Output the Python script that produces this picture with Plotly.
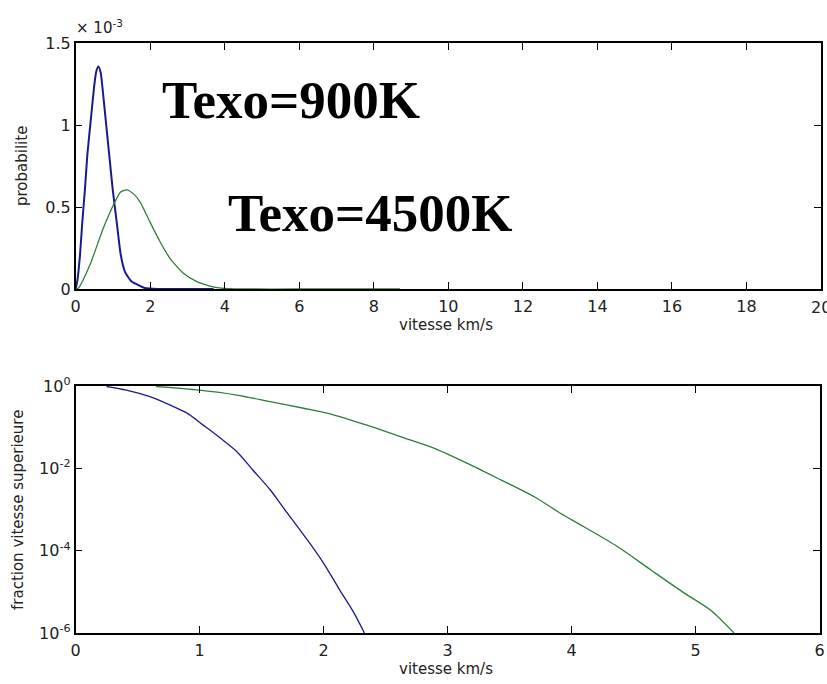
import plotly.graph_objects as go

W, H = 827, 684

# --- Distribution de probabilite des vitesses (x 1e-3) ---
v_900 = [0.0, 0.05, 0.115, 0.178, 0.25, 0.312, 0.40, 0.49, 0.55, 0.61, 0.67, 0.72, 0.81,
         0.90, 0.99, 1.10, 1.21, 1.32, 1.50, 1.68, 1.85, 2.2, 3.0, 3.7]
p_900 = [0.0, 0.06, 0.207, 0.41, 0.614, 0.817, 1.02, 1.224, 1.325, 1.356, 1.32, 1.224, 1.02,
         0.817, 0.614, 0.41, 0.207, 0.106, 0.045, 0.024, 0.006, 0.0, 0.0, 0.0]

v_4500 = [0.0, 0.07, 0.38, 0.74, 1.05, 1.20, 1.37, 1.55, 1.73, 1.99, 2.26, 2.53,
          2.89, 3.25, 3.60, 3.90, 4.5, 6.0, 8.7]
p_4500 = [0.0, 0.005, 0.146, 0.37, 0.53, 0.59, 0.604, 0.58, 0.53, 0.41, 0.29, 0.187,
          0.096, 0.045, 0.018, 0.005, 0.0, 0.0, 0.0]

# --- Fraction des particules de vitesse superieure ---
vf_900 = [0.25, 0.41, 0.60, 0.76, 0.90, 1.03, 1.17, 1.30, 1.43, 1.57, 1.68, 1.87,
          2.00, 2.13, 2.24, 2.33]
f_900 = [0.97, 0.794, 0.55, 0.347, 0.219, 0.112, 0.0537, 0.0257, 0.00912, 0.00302,
         0.00107, 1.82e-4, 5.0e-5, 1.12e-5, 3.3e-6, 1.0e-6]

vf_4500 = [0.65, 1.0, 1.30, 1.57, 1.84, 2.08, 2.35, 2.62, 2.89, 3.16, 3.43, 3.70,
           3.91, 4.10, 4.37, 4.64, 4.91, 5.12, 5.31]
f_4500 = [0.97, 0.794, 0.603, 0.417, 0.288, 0.200, 0.112, 0.0589, 0.0309, 0.0132,
          5.25e-3, 2.04e-3, 8.1e-4, 3.8e-4, 1.26e-4, 3.4e-5, 9.3e-6, 3.6e-6, 1.0e-6]

top_xticks = [0, 2, 4, 6, 8, 10, 12, 14, 16, 18, 20]
top_yticks = [0, 0.5, 1, 1.5]
top_ytext = ["0", "0.5", "1", "1.5"]
bot_xticks = [0, 1, 2, 3, 4, 5, 6]
bot_yticks = [1, 1e-2, 1e-4, 1e-6]
bot_ytext = ["10<sup>0</sup>", "10<sup>-2</sup>", "10<sup>-4</sup>", "10<sup>-6</sup>"]

BLUE = "#1a1a8e"
GREEN = "#2f7d3a"
TXT = "#222222"
SANS = "DejaVu Sans, Arial, sans-serif"
SERIF = "Liberation Serif, Times New Roman, serif"
TICK_SIZE = 16


def px(x):
    return x / W


def py(y):
    return 1 - y / H


fig = go.Figure()
fig.add_trace(go.Scatter(x=v_900, y=p_900, mode="lines",
                         line=dict(color=BLUE, width=2, shape="spline", smoothing=0.6),
                         xaxis="x", yaxis="y", showlegend=False))
fig.add_trace(go.Scatter(x=v_4500, y=p_4500, mode="lines",
                         line=dict(color=GREEN, width=1.3, shape="spline", smoothing=0.6),
                         xaxis="x", yaxis="y", showlegend=False))
fig.add_trace(go.Scatter(x=vf_900, y=f_900, mode="lines",
                         line=dict(color=BLUE, width=1.3, shape="spline", smoothing=0.8),
                         xaxis="x2", yaxis="y2", showlegend=False))
fig.add_trace(go.Scatter(x=vf_4500, y=f_4500, mode="lines",
                         line=dict(color=GREEN, width=1.3, shape="spline", smoothing=0.8),
                         xaxis="x2", yaxis="y2", showlegend=False))

axis_common = dict(showgrid=False, zeroline=False, showline=True, linecolor="black",
                   linewidth=1.5, mirror="ticks", ticks="inside", ticklen=7,
                   tickcolor="black", tickwidth=1.3, automargin=False,
                   tickfont=dict(family=SANS, size=TICK_SIZE, color=TXT))
xaxis_common = dict(axis_common, ticklabelstandoff=2)

fig.update_layout(
    width=W, height=H,
    margin=dict(l=0, r=0, t=0, b=0),
    paper_bgcolor="white", plot_bgcolor="white",
    xaxis=dict(xaxis_common, domain=[px(75.7), px(821)], range=[0, 20],
               tickvals=top_xticks, anchor="y"),
    yaxis=dict(axis_common, domain=[py(289), py(43)], range=[0, 1.5],
               tickvals=top_yticks, ticktext=top_ytext, anchor="x"),
    xaxis2=dict(xaxis_common, domain=[px(75.5), px(819.5)], range=[0, 6],
                tickvals=bot_xticks, anchor="y2"),
    yaxis2=dict(axis_common, domain=[py(633), py(386)], type="log", range=[-6, 0],
                tickvals=bot_yticks, ticktext=bot_ytext, anchor="x2"),
)

annots = [
    # last tick label of the top axis, running past the right edge of the page
    dict(text="20", x=px(821), y=py(307), xanchor="center", yanchor="middle",
         font=dict(family=SANS, size=TICK_SIZE, color=TXT)),
    dict(text="× 10<sup>-3</sup>", x=px(74), y=py(27), xanchor="left", yanchor="middle",
         font=dict(family=SANS, size=15, color=TXT)),
    dict(text="vitesse km/s", x=px(446), y=py(325), xanchor="center", yanchor="middle",
         font=dict(family=SANS, size=15, color=TXT)),
    dict(text="probabilite", x=px(22), y=py(166), xanchor="center", yanchor="middle",
         textangle=-90, font=dict(family=SANS, size=15, color=TXT)),
    dict(text="vitesse km/s", x=px(446), y=py(669), xanchor="center", yanchor="middle",
         font=dict(family=SANS, size=15, color=TXT)),
    dict(text="fraction vitesse superieure", x=px(18), y=py(510), xanchor="center",
         yanchor="middle", textangle=-90, font=dict(family=SANS, size=15, color=TXT)),
    dict(text="<b>Texo=900K</b>", x=px(160), y=py(100), xanchor="left", yanchor="middle",
         font=dict(family=SERIF, size=53, color="black")),
    dict(text="<b>Texo=4500K</b>", x=px(226), y=py(213), xanchor="left", yanchor="middle",
         font=dict(family=SERIF, size=53, color="black")),
]
for a in annots:
    a.update(xref="paper", yref="paper", showarrow=False)
fig.update_layout(annotations=annots)

fig.write_html("out.html")
